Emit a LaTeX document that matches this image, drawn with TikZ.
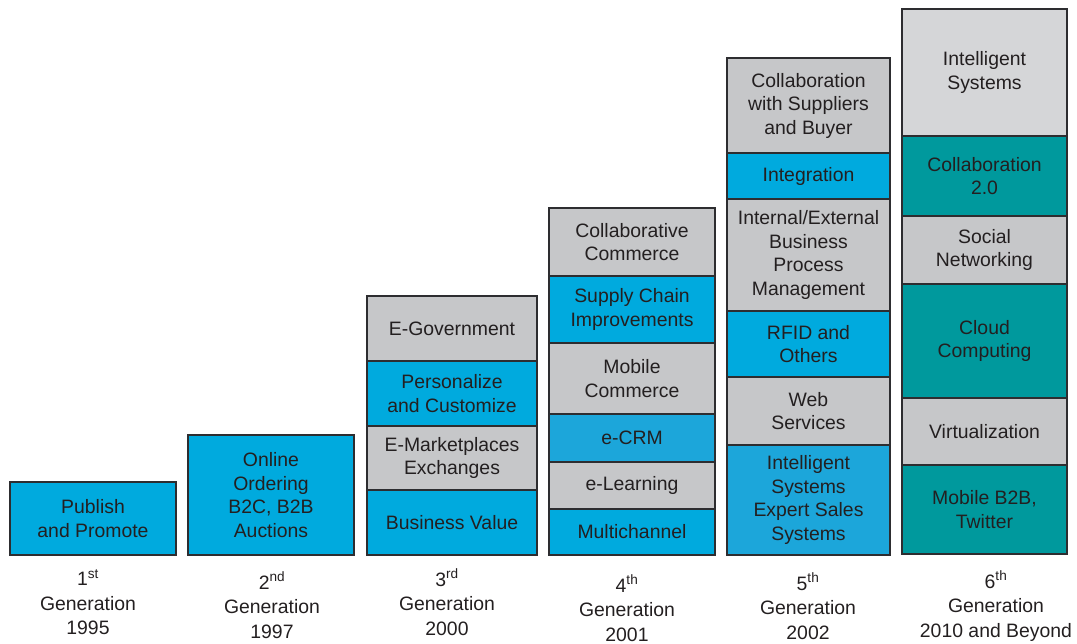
\documentclass[tikz,border=0pt]{standalone}
\usepackage{fontspec}
\setmainfont{Liberation Sans}
\definecolor{cblue}{RGB}{0,170,222}
\definecolor{cblueb}{RGB}{28,166,218}
\definecolor{cgray}{RGB}{198,199,201}
\definecolor{clgray}{RGB}{213,214,216}
\definecolor{cteal}{RGB}{0,153,157}
\definecolor{cline}{RGB}{45,45,48}
\definecolor{ctext}{RGB}{35,31,32}
\newcommand\blk[7]{\node[blk, fill=#6, minimum width={(#4-#2)*1pt}, minimum height={(#5-#3)*1pt}] (#1) at ({(#2+#4)/2},{(#3+#5)/2}) {#7};}
\begin{document}
\begin{tikzpicture}[x=1pt,y=-1pt,
  blk/.style={draw=cline, line width=1.3pt, rectangle, inner sep=0pt, align=center, text=ctext, font=\fontsize{19.4}{23.5}\selectfont},
  genlabel/.style={align=center, text=ctext, inner sep=0pt, font=\fontsize{19.4}{24.5}\selectfont}]
\useasboundingbox (0,0) rectangle (1077,644);
% column 1
\blk{p}{10}{482}{176}{555}{cblue}{Publish\\and Promote}
% column 2
\blk{o}{188}{435}{354}{555}{cblue}{Online\\Ordering\\B2C, B2B\\Auctions}
% column 3
\blk{eg}{367}{296}{537}{361}{cgray}{E-Government}
\blk{pc}{367}{361}{537}{426}{cblue}{Personalize\\and Customize}
\blk{em}{367}{426}{537}{490}{cgray}{E-Marketplaces\\Exchanges}
\blk{bv}{367}{490}{537}{555}{cblue}{Business Value}
% column 4
\blk{cc}{549}{208}{715}{276}{cgray}{Collaborative\\Commerce}
\blk{sc}{549}{276}{715}{343}{cblue}{Supply Chain\\Improvements}
\blk{mc}{549}{343}{715}{414}{cgray}{Mobile\\Commerce}
\blk{crm}{549}{414}{715}{462}{cblueb}{e-CRM}
\blk{el}{549}{462}{715}{509}{cgray}{e-Learning}
\blk{mu}{549}{509}{715}{555}{cblue}{Multichannel}
% column 5
\blk{cs}{727}{58}{890}{153}{cgray}{\raisebox{0pt}[\height][\depth]{}Collaboration\\with Suppliers\\and Buyer}
\blk{in}{727}{153}{890}{199}{cblue}{Integration}
\blk{ie}{727}{199}{890}{311}{cgray}{Internal/External\\Business\\Process\\Management}
\blk{rf}{727}{311}{890}{377}{cblue}{RFID and\\Others}
\blk{ws}{727}{377}{890}{445}{cgray}{Web\\Services}
\blk{is}{727}{445}{890}{555}{cblueb}{Intelligent\\Systems\\Expert Sales\\Systems}
% column 6
\blk{ins}{902}{9}{1067}{136}{clgray}{Intelligent\\Systems}
\blk{co}{902}{136}{1067}{216}{cteal}{Collaboration\\2.0}
\blk{sn}{902}{216}{1067}{284}{cgray}{Social\\Networking}
\blk{cl}{902}{284}{1067}{398}{cteal}{Cloud\\Computing}
\blk{vi}{902}{398}{1067}{465}{cgray}{Virtualization}
\blk{mb}{902}{465}{1067}{554}{cteal}{Mobile B2B,\\Twitter}
% generation labels
\node[genlabel] (g1) at (88,602) {1\textsuperscript{st}\\Generation\\1995};
\node[genlabel] (g2) at (272,605) {2\textsuperscript{nd}\\Generation\\1997};
\node[genlabel] (g3) at (447,602) {3\textsuperscript{rd}\\Generation\\2000};
\node[genlabel] (g4) at (627,608) {4\textsuperscript{th}\\Generation\\2001};
\node[genlabel] (g5) at (808,606) {5\textsuperscript{th}\\Generation\\2002};
\node[genlabel] (g6) at (996,606) {6\textsuperscript{th}\\Generation\\2010 and Beyond};
\end{tikzpicture}
\end{document}
